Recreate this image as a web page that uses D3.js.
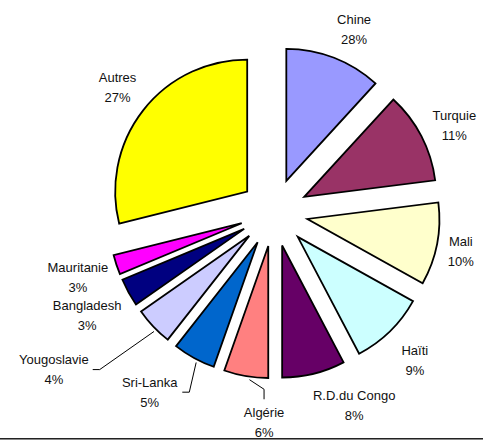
<!DOCTYPE html>
<html>
<head>
<meta charset="utf-8">
<script src="https://cdn.jsdelivr.net/npm/d3@7"></script>
<style>
  html, body { margin: 0; padding: 0; background: #fff; }
  svg { display: block; }
  text { font-family: "Liberation Sans", Arial, sans-serif; font-size: 13px; fill: #111; }
</style>
</head>
<body>
<svg id="chart" width="483" height="440"></svg>
<script>
// ---- data ----
const countries = ["Chine", "Turquie", "Mali", "Haïti", "R.D.du Congo", "Algérie",
                   "Sri-Lanka", "Yougoslavie", "Bangladesh", "Mauritanie", "Autres"];
// slice sizes as drawn (share of the full circle, %)
const shares = [11.8, 11.2, 10.1, 9.2, 7.7, 5.4, 5.2, 4.7, 3.4, 2.4, 28.9];
// percentage labels as printed on the chart
const pctLabels = ["28%", "11%", "10%", "9%", "8%", "6%", "5%", "4%", "3%", "3%", "27%"];
const colors = ["#9999FF", "#993366", "#FFFFCC", "#CCFFFF", "#660066", "#FF8080",
                "#0066CC", "#CCCCFF", "#000080", "#FF00FF", "#FFFF00"];

// ---- layout ----
const W = 483, H = 440;
const cx = 274, cy = 212.5, R = 132, explode = 34;
// label placement: [angle in degrees clockwise from north, distance from pie centre]
const labelPolar = [[23.7, 199.3], [64.4, 200], [101.9, 190.9], [136.5, 204.6], [157.5, 209.5],
                    [182.7, 211], [214.6, 218.9], [234.4, 270.7], [241, 213.6], [251.6, 206.7],
                    [308.6, 200.2]];
// leader lines: null = none, "side" = label to the left, "top" = label below
const leaderType = [null, null, null, null, null, "top", "side", "side", null, null, null];

const svg = d3.select("#chart");
const g = svg.append("g").attr("transform", `translate(${cx},${cy})`);

const pie = d3.pie().sort(null).value(d => d.v).startAngle(0).endAngle(2 * Math.PI);
const arcs = pie(countries.map((c, i) => ({ c, v: shares[i], i })));
const arc = d3.arc().innerRadius(0).outerRadius(R);

function offset(a, dist) { return [Math.sin(a) * dist, -Math.cos(a) * dist]; }

g.selectAll("path.slice")
  .data(arcs)
  .join("path")
  .attr("class", "slice")
  .attr("d", arc)
  .attr("transform", d => {
    const [dx, dy] = offset((d.startAngle + d.endAngle) / 2, explode);
    return `translate(${dx},${dy})`;
  })
  .attr("fill", d => colors[d.data.i])
  .attr("stroke", "#000")
  .attr("stroke-width", 1.8)
  .attr("stroke-linejoin", "miter");

// labels
const labels = g.selectAll("g.label")
  .data(arcs)
  .join("g")
  .attr("class", "label")
  .attr("transform", d => {
    const [a, r] = labelPolar[d.data.i];
    const [x, y] = offset(a * Math.PI / 180, r);
    return `translate(${x},${y})`;
  });

labels.append("text")
  .attr("text-anchor", "middle")
  .attr("y", -6)
  .text(d => d.data.c);
labels.append("text")
  .attr("text-anchor", "middle")
  .attr("y", 14)
  .text(d => pctLabels[d.data.i]);

// leader lines
labels.each(function(d) {
  const type = leaderType[d.data.i];
  if (!type) return;
  const bb = this.getBBox();
  const tr = d3.select(this).attr("transform").match(/translate\(([^,]+),([^)]+)\)/);
  const lx = +tr[1], ly = +tr[2];
  const mid = (d.startAngle + d.endAngle) / 2;
  const [ex, ey] = offset(mid, explode);
  const [sx, sy] = offset(mid - 0.03, R + 3);
  const start = [ex + sx, ey + sy];
  let knee, end;
  if (type === "side") {
    end = [lx + bb.x + bb.width + 4, ly + bb.y + bb.height / 2];
    knee = [end[0] + 7, end[1]];
  } else {
    end = [lx, ly + bb.y - 6];
    knee = [lx, end[1] - 10];
  }
  g.append("path")
    .attr("d", d3.line()([start, knee, end]))
    .attr("fill", "none")
    .attr("stroke", "#000")
    .attr("stroke-width", 1);
});

// bottom frame line
svg.append("line").attr("x1", 0).attr("x2", W).attr("y1", 438.5).attr("y2", 438.5)
  .attr("stroke", "#222").attr("stroke-width", 1);
svg.append("line").attr("x1", 0).attr("x2", W).attr("y1", 439.5).attr("y2", 439.5)
  .attr("stroke", "#888").attr("stroke-width", 1);
</script>
</body>
</html>
